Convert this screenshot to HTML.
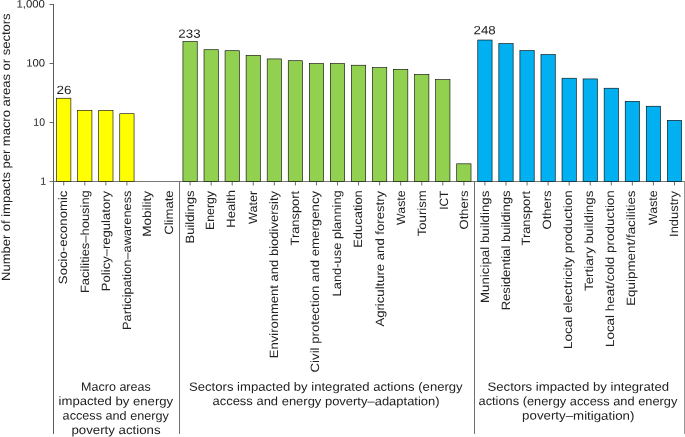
<!DOCTYPE html>
<html lang="en">
<head>
<meta charset="utf-8">
<title>Number of impacts per macro areas or sectors</title>
<style>
html,body{margin:0;padding:0;background:#fff;}
body{width:685px;height:437px;overflow:hidden;}
svg{display:block;}
text{font-family:"Liberation Sans", sans-serif;fill:#222;font-size:12px;text-rendering:geometricPrecision;}
.g{font-size:12.01px;}
.k{font-size:10.6px;}
.bar{stroke:#000;stroke-width:0.6;}
.ax{stroke:#5a5a5a;stroke-width:1;}
.bl{stroke:#777;stroke-width:1;}
.sp{stroke:#6e6e6e;stroke-width:1;}
.rl{stroke:#999;stroke-width:1;}
.yt{stroke:#666;stroke-width:1;}
.tk{stroke:#6e6e6e;stroke-width:1;}
</style>
</head>
<body>
<svg width="685" height="437" viewBox="0 0 685 437">
<rect width="685" height="437" fill="#fff"/>

<g><line class="bl" x1="49.5" y1="181.5" x2="685.0" y2="181.5"/>
<line class="ax" x1="53.5" y1="4" x2="53.5" y2="433.9"/>
<line class="sp" x1="179.5" y1="181.5" x2="179.5" y2="433.9"/>
<line class="sp" x1="474.5" y1="181.5" x2="474.5" y2="433.9"/>
<line class="rl" x1="684.5" y1="181.5" x2="684.5" y2="433.9"/>
<line class="yt" x1="49.5" y1="122.5" x2="53" y2="122.5"/>
<line class="yt" x1="49.5" y1="63.5" x2="53" y2="63.5"/>
<line class="yt" x1="49.5" y1="4.5" x2="53" y2="4.5"/></g>
<g><rect class="bar" x="56.58" y="98.22" width="14.30" height="83.28" fill="#ffff00"/>
<rect class="bar" x="77.64" y="110.42" width="14.30" height="71.08" fill="#ffff00"/>
<rect class="bar" x="98.70" y="110.42" width="14.30" height="71.08" fill="#ffff00"/>
<rect class="bar" x="119.76" y="113.72" width="14.30" height="67.78" fill="#ffff00"/>
<rect class="bar" x="182.94" y="41.62" width="14.30" height="139.88" fill="#92d050"/>
<rect class="bar" x="204.00" y="49.72" width="14.30" height="131.78" fill="#92d050"/>
<rect class="bar" x="225.06" y="50.72" width="14.30" height="130.78" fill="#92d050"/>
<rect class="bar" x="246.12" y="55.32" width="14.30" height="126.18" fill="#92d050"/>
<rect class="bar" x="267.18" y="58.92" width="14.30" height="122.58" fill="#92d050"/>
<rect class="bar" x="288.24" y="60.72" width="14.30" height="120.78" fill="#92d050"/>
<rect class="bar" x="309.30" y="63.52" width="14.30" height="117.98" fill="#92d050"/>
<rect class="bar" x="330.36" y="63.52" width="14.30" height="117.98" fill="#92d050"/>
<rect class="bar" x="351.42" y="65.22" width="14.30" height="116.28" fill="#92d050"/>
<rect class="bar" x="372.48" y="67.62" width="14.30" height="113.88" fill="#92d050"/>
<rect class="bar" x="393.54" y="69.32" width="14.30" height="112.18" fill="#92d050"/>
<rect class="bar" x="414.60" y="74.47" width="14.30" height="107.03" fill="#92d050"/>
<rect class="bar" x="435.66" y="79.62" width="14.30" height="101.88" fill="#92d050"/>
<rect class="bar" x="456.72" y="163.82" width="14.30" height="17.68" fill="#92d050"/>
<rect class="bar" x="477.78" y="40.02" width="14.30" height="141.48" fill="#00b0f0"/>
<rect class="bar" x="498.84" y="43.62" width="14.30" height="137.88" fill="#00b0f0"/>
<rect class="bar" x="519.90" y="50.62" width="14.30" height="130.88" fill="#00b0f0"/>
<rect class="bar" x="540.96" y="54.52" width="14.30" height="126.98" fill="#00b0f0"/>
<rect class="bar" x="562.02" y="78.22" width="14.30" height="103.28" fill="#00b0f0"/>
<rect class="bar" x="583.08" y="78.92" width="14.30" height="102.58" fill="#00b0f0"/>
<rect class="bar" x="604.14" y="88.22" width="14.30" height="93.28" fill="#00b0f0"/>
<rect class="bar" x="625.20" y="101.32" width="14.30" height="80.18" fill="#00b0f0"/>
<rect class="bar" x="646.26" y="106.22" width="14.30" height="75.28" fill="#00b0f0"/>
<rect class="bar" x="667.32" y="120.32" width="14.30" height="61.18" fill="#00b0f0"/></g>
<g><line class="tk" x1="63.73" y1="182.0" x2="63.73" y2="185.5"/>
<line class="tk" x1="84.79" y1="182.0" x2="84.79" y2="185.5"/>
<line class="tk" x1="105.85" y1="182.0" x2="105.85" y2="185.5"/>
<line class="tk" x1="126.91" y1="182.0" x2="126.91" y2="185.5"/>
<line class="tk" x1="190.09" y1="182.0" x2="190.09" y2="185.5"/>
<line class="tk" x1="211.15" y1="182.0" x2="211.15" y2="185.5"/>
<line class="tk" x1="232.21" y1="182.0" x2="232.21" y2="185.5"/>
<line class="tk" x1="253.27" y1="182.0" x2="253.27" y2="185.5"/>
<line class="tk" x1="274.33" y1="182.0" x2="274.33" y2="185.5"/>
<line class="tk" x1="295.39" y1="182.0" x2="295.39" y2="185.5"/>
<line class="tk" x1="316.45" y1="182.0" x2="316.45" y2="185.5"/>
<line class="tk" x1="337.51" y1="182.0" x2="337.51" y2="185.5"/>
<line class="tk" x1="358.57" y1="182.0" x2="358.57" y2="185.5"/>
<line class="tk" x1="379.63" y1="182.0" x2="379.63" y2="185.5"/>
<line class="tk" x1="400.69" y1="182.0" x2="400.69" y2="185.5"/>
<line class="tk" x1="421.75" y1="182.0" x2="421.75" y2="185.5"/>
<line class="tk" x1="442.81" y1="182.0" x2="442.81" y2="185.5"/>
<line class="tk" x1="463.87" y1="182.0" x2="463.87" y2="185.5"/>
<line class="tk" x1="484.93" y1="182.0" x2="484.93" y2="185.5"/>
<line class="tk" x1="505.99" y1="182.0" x2="505.99" y2="185.5"/>
<line class="tk" x1="527.05" y1="182.0" x2="527.05" y2="185.5"/>
<line class="tk" x1="548.11" y1="182.0" x2="548.11" y2="185.5"/>
<line class="tk" x1="569.17" y1="182.0" x2="569.17" y2="185.5"/>
<line class="tk" x1="590.23" y1="182.0" x2="590.23" y2="185.5"/>
<line class="tk" x1="611.29" y1="182.0" x2="611.29" y2="185.5"/>
<line class="tk" x1="632.35" y1="182.0" x2="632.35" y2="185.5"/>
<line class="tk" x1="653.41" y1="182.0" x2="653.41" y2="185.5"/>
<line class="tk" x1="674.47" y1="182.0" x2="674.47" y2="185.5"/></g>
<g><text transform="translate(67.18 284.13) rotate(-90) scale(1.0957 1)">Socio-economic</text>
<text transform="translate(88.74 293.03) rotate(-90) scale(1.0782 1)">Facilities–housing</text>
<text transform="translate(110.20 291.14) rotate(-90) scale(1.0885 1)">Policy–regulatory</text>
<text transform="translate(130.96 330.02) rotate(-90) scale(1.0673 1)">Participation–awareness</text>
<text transform="translate(151.42 236.78) rotate(-90) scale(1.1268 1)">Mobility</text>
<text transform="translate(173.08 234.83) rotate(-90) scale(1.0924 1)">Climate</text>
<text transform="translate(193.54 243.59) rotate(-90) scale(1.0899 1)">Buildings</text>
<text transform="translate(214.00 230.08) rotate(-90) scale(1.0284 1)">Energy</text>
<text transform="translate(235.26 227.73) rotate(-90) scale(1.0844 1)">Health</text>
<text transform="translate(256.72 223.88) rotate(-90) scale(1.0480 1)">Water</text>
<text transform="translate(277.58 358.14) rotate(-90) scale(1.0853 1)">Environment and biodiversity</text>
<text transform="translate(298.84 245.52) rotate(-90) scale(1.0743 1)">Transport</text>
<text transform="translate(319.00 372.44) rotate(-90) scale(1.1021 1)">Civil protection and emergency</text>
<text transform="translate(340.96 296.43) rotate(-90) scale(1.0758 1)">Land-use planning</text>
<text transform="translate(362.02 247.83) rotate(-90) scale(1.0799 1)">Education</text>
<text transform="translate(383.68 326.55) rotate(-90) scale(1.0931 1)">Agriculture and forestry</text>
<text transform="translate(405.34 224.88) rotate(-90) scale(1.0266 1)">Waste</text>
<text transform="translate(426.00 236.32) rotate(-90) scale(1.0988 1)">Tourism</text>
<text transform="translate(447.76 209.87) rotate(-90) scale(0.9930 1)">ICT</text>
<text transform="translate(467.82 229.43) rotate(-90) scale(1.0824 1)">Others</text>
<text transform="translate(489.08 303.06) rotate(-90) scale(1.1095 1)">Municipal buildings</text>
<text transform="translate(510.04 310.34) rotate(-90) scale(1.0886 1)">Residential buildings</text>
<text transform="translate(530.10 245.52) rotate(-90) scale(1.0743 1)">Transport</text>
<text transform="translate(551.06 229.43) rotate(-90) scale(1.0824 1)">Others</text>
<text transform="translate(572.32 349.12) rotate(-90) scale(1.1244 1)">Local electricity production</text>
<text transform="translate(593.28 291.03) rotate(-90) scale(1.1161 1)">Tertiary buildings</text>
<text transform="translate(614.14 347.07) rotate(-90) scale(1.1198 1)">Local heat/cold production</text>
<text transform="translate(635.30 305.87) rotate(-90) scale(1.1166 1)">Equipment/facilities</text>
<text transform="translate(656.86 224.88) rotate(-90) scale(1.0266 1)">Waste</text>
<text transform="translate(677.92 236.96) rotate(-90) scale(1.0783 1)">Industry</text></g>
<text class="g" transform="translate(81.11 390.70) rotate(0.03) scale(1.0437 1)">Macro areas</text>
<text class="g" transform="translate(58.53 405.10) rotate(0.03) scale(1.0946 1)">impacted by energy</text>
<text class="g" transform="translate(62.62 419.60) rotate(0.03) scale(1.0547 1)">access and energy</text>
<text class="g" transform="translate(71.42 434.00) rotate(0.03) scale(1.1044 1)">poverty actions</text>
<text class="g" transform="translate(189.07 390.70) rotate(0.03) scale(1.0907 1)">Sectors impacted by integrated actions (energy</text>
<text class="g" transform="translate(212.46 405.10) rotate(0.03) scale(1.0808 1)">access and energy poverty–adaptation)</text>
<text class="g" transform="translate(487.46 390.70) rotate(0.03) scale(1.0982 1)">Sectors impacted by integrated</text>
<text class="g" transform="translate(478.52 405.10) rotate(0.03) scale(1.0685 1)">actions (energy access and energy</text>
<text class="g" transform="translate(522.12 419.60) rotate(0.03) scale(1.1069 1)">poverty–mitigation)</text>
<text transform="translate(56.45 93.95) rotate(0.03) scale(1.1184 1)">26</text>
<text transform="translate(178.36 37.65) rotate(0.03) scale(1.1073 1)">233</text>
<text transform="translate(473.56 34.35) rotate(0.03) scale(1.1073 1)">248</text>
<text class="k" transform="translate(16.44 7.50) rotate(0.03) scale(1.0759 1)">1,000</text>
<text class="k" transform="translate(26.15 66.55) rotate(0.03) scale(1.0667 1)">100</text>
<text class="k" transform="translate(33.31 125.70) rotate(0.03) scale(0.9882 1)">10</text>
<text class="k" transform="translate(40.27 184.75) rotate(0.03) scale(1.0000 1)">1</text>
<text transform="translate(9.70 280.93) rotate(-90) scale(1.0809 1)">Number of impacts per macro areas or sectors</text>
</svg>
</body>
</html>
